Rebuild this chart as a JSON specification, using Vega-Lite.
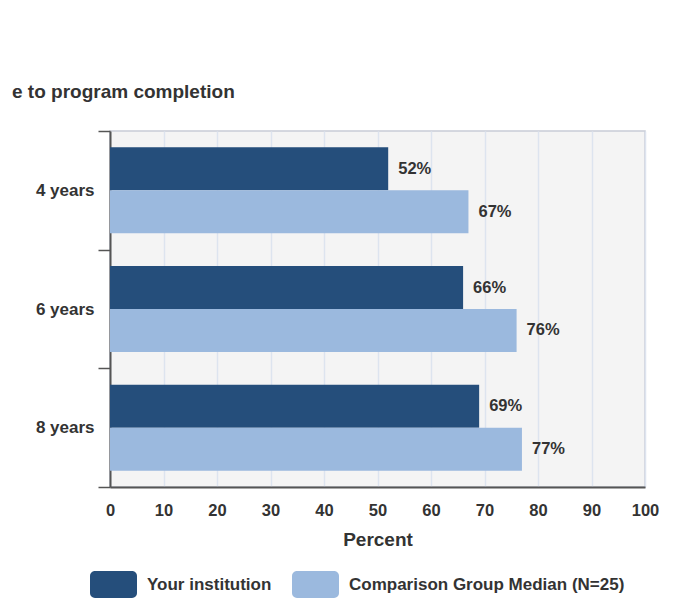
{
  "$schema": "https://vega.github.io/schema/vega-lite/v6.json",
  "width": 535,
  "height": 356,
  "padding": {"left": 12, "top": 83, "right": 5, "bottom": 5},
  "background": "white",
  "title": {
    "text": "e to program completion",
    "anchor": "start",
    "frame": "bounds",
    "fontSize": 19,
    "fontWeight": "bold",
    "font": "Liberation Sans",
    "color": "#333333",
    "offset": 20
  },
  "config": {
    "font": "Liberation Sans",
    "view": {"fill": "#f4f4f4", "stroke": "#c8ccd6", "strokeWidth": 1.5}
  },
  "data": {
    "values": [
      {"cat": "4 years", "series": "Your institution", "v": 52},
      {"cat": "4 years", "series": "Comparison Group Median (N=25)", "v": 67},
      {"cat": "6 years", "series": "Your institution", "v": 66},
      {"cat": "6 years", "series": "Comparison Group Median (N=25)", "v": 76},
      {"cat": "8 years", "series": "Your institution", "v": 69},
      {"cat": "8 years", "series": "Comparison Group Median (N=25)", "v": 77}
    ]
  },
  "encoding": {
    "y": {
      "field": "cat",
      "type": "nominal",
      "scale": {"paddingInner": 0, "paddingOuter": 0},
      "axis": {
        "title": null,
        "labelFontSize": 17,
        "labelFontWeight": "bold",
        "labelColor": "#333333",
        "tickBand": "extent",
        "tickSize": 12,
        "tickColor": "#555555",
        "tickWidth": 1.5,
        "domainColor": "#555555",
        "domainWidth": 2,
        "labelPadding": 4,
        "minExtent": 98,
        "maxExtent": 98,
        "grid": false
      }
    },
    "yOffset": {
      "field": "series",
      "type": "nominal",
      "sort": ["Your institution", "Comparison Group Median (N=25)"],
      "scale": {"paddingInner": 0, "paddingOuter": 0.38}
    },
    "x": {
      "field": "v",
      "type": "quantitative",
      "scale": {"domain": [0, 100], "nice": false},
      "axis": {
        "values": [0, 10, 20, 30, 40, 50, 60, 70, 80, 90, 100],
        "title": "Percent",
        "titleFontSize": 19,
        "titleFontWeight": "bold",
        "titleColor": "#333333",
        "titlePadding": 12,
        "labelFontSize": 16.5,
        "labelFontWeight": "bold",
        "labelColor": "#333333",
        "labelPadding": 15,
        "labelFlush": false,
        "ticks": false,
        "domainColor": "#555555",
        "domainWidth": 2,
        "gridColor": "#dde4ef",
        "gridWidth": 1.5
      }
    }
  },
  "layer": [
    {
      "mark": {"type": "bar"},
      "encoding": {
        "color": {
          "field": "series",
          "type": "nominal",
          "sort": ["Your institution", "Comparison Group Median (N=25)"],
          "scale": {
            "domain": ["Your institution", "Comparison Group Median (N=25)"],
            "range": ["#254e7b", "#9bb9de"]
          },
          "legend": {
            "title": null,
            "orient": "none",
            "legendX": -20,
            "legendY": 430,
            "direction": "horizontal",
            "labelFontSize": 17,
            "labelFontWeight": "bold",
            "labelColor": "#333333",
            "labelOffset": 10,
            "labelLimit": 400,
            "columnPadding": 19,
            "symbolSize": 2209,
            "symbolStrokeWidth": 0,
            "symbolOpacity": 1,
            "symbolType": "M-0.79,-0.574 L0.79,-0.574 A0.21,0.21 0 0 1 1,-0.364 L1,0.364 A0.21,0.21 0 0 1 0.79,0.574 L-0.79,0.574 A0.21,0.21 0 0 1 -1,0.364 L-1,-0.364 A0.21,0.21 0 0 1 -0.79,-0.574 Z"
          }
        }
      }
    },
    {
      "mark": {
        "type": "text",
        "align": "left",
        "baseline": "middle",
        "dx": 10,
        "fontSize": 16.5,
        "fontWeight": "bold",
        "color": "#333333",
        "text": {"expr": "datum.v + '%'"}
      }
    }
  ]
}
